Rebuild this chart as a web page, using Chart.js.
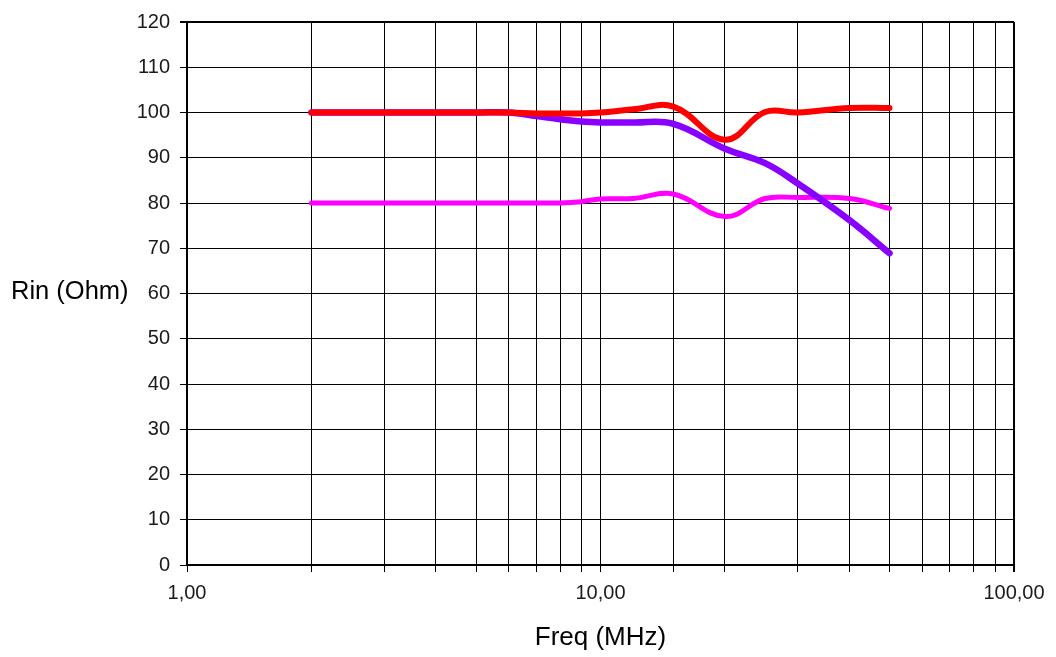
<!DOCTYPE html>
<html>
<head>
<meta charset="utf-8">
<script src="https://cdn.jsdelivr.net/npm/chart.js@4"></script>
<style>
  html, body { margin: 0; padding: 0; background: #fff; }
  #wrap { position: relative; width: 1056px; height: 657px; }
  #ylab {
    position: absolute; left: 11px; top: 290px; transform: translateY(-50%);
    font-family: "Liberation Sans", Arial, sans-serif; font-size: 25.5px; color: #000;
    white-space: nowrap;
  }
</style>
</head>
<body>
<div id="wrap">
  <canvas id="rinChart" width="1056" height="657"></canvas>
  <div id="ylab">Rin (Ohm)</div>
</div>
<script>
// frequencies (MHz) and Rin values
const freqs   = [2, 3, 4, 5, 6, 7, 8, 9, 10, 12, 15, 20, 25, 30, 40, 50];
const rinRed    = [100, 100, 100, 100, 100, 99.8, 99.8, 99.8, 100, 100.7, 101.3, 94, 100.1, 100, 101, 101];
const rinPurple = [100, 100, 100, 100, 100, 99.2, 98.5, 98, 97.8, 97.8, 97.5, 92, 88.8, 84.3, 76.2, 68.9];
const rinPink   = [80, 80, 80, 80, 80, 80, 80, 80.3, 80.9, 81, 82, 77, 81, 81.2, 81, 78.8];

const xLabels = [1, 10, 100];
const yMin = 0, yMax = 120;

const pts = (vals) => freqs.map((f, i) => ({ x: f, y: vals[i] }));
const fnt = { family: "'Liberation Sans', Arial, sans-serif", size: 20 };

let ctx = document.getElementById("rinChart").getContext("2d");
let chart = new Chart(ctx, {
    type: 'line',
    data: {
        datasets: [
            { label: 'red', data: pts(rinRed), borderColor: '#ff0000', borderWidth: 6 },
            { label: 'purple', data: pts(rinPurple), borderColor: '#8800ff', borderWidth: 6.5 },
            { label: 'pink', data: pts(rinPink), borderColor: '#ff00ff', borderWidth: 5 }
        ]
    },
    options: {
        responsive: false,
        animation: false,
        elements: {
            line: { tension: 0.4, borderCapStyle: 'round', borderJoinStyle: 'round' },
            point: { radius: 0 }
        },
        layout: { padding: { left: 0, right: 42, top: 22, bottom: 0 } },
        plugins: { legend: { display: false }, tooltip: { enabled: false } },
        scales: {
            x: {
                type: 'logarithmic',
                min: 1,
                max: 100,
                afterFit: (s) => { s.height = 92; },
                border: { color: '#000', width: 2 },
                grid: {
                    color: '#000',
                    lineWidth: (c) => (c.tick && c.tick.value === 100 ? 2 : 1),
                    tickLength: 7,
                    tickColor: '#000'
                },
                ticks: {
                    autoSkip: false,
                    maxRotation: 0,
                    padding: 9,
                    color: '#1a1a1a',
                    font: fnt,
                    callback: (v) => (xLabels.includes(v) ? v.toFixed(2).replace('.', ',') : '')
                },
                title: {
                    display: true,
                    text: 'Freq (MHz)',
                    color: '#000',
                    font: { family: "'Liberation Sans', Arial, sans-serif", size: 26 },
                    padding: { top: 0, bottom: 4 }
                }
            },
            y: {
                min: yMin,
                max: yMax,
                afterFit: (s) => { s.width = 187; },
                border: { color: '#000', width: 2 },
                grid: {
                    color: (c) => (c.tick && c.tick.value % 10 === 0 ? '#000' : 'rgba(0,0,0,0)'),
                    lineWidth: (c) => (c.tick && c.tick.value === 120 ? 2 : 1),
                    tickLength: 7,
                    tickColor: '#000'
                },
                ticks: {
                    stepSize: 5,
                    padding: 10,
                    color: '#1a1a1a',
                    font: fnt,
                    callback: (v) => (v % 10 === 0 ? v : '')
                }
            }
        }
    }
});
</script>
</body>
</html>
